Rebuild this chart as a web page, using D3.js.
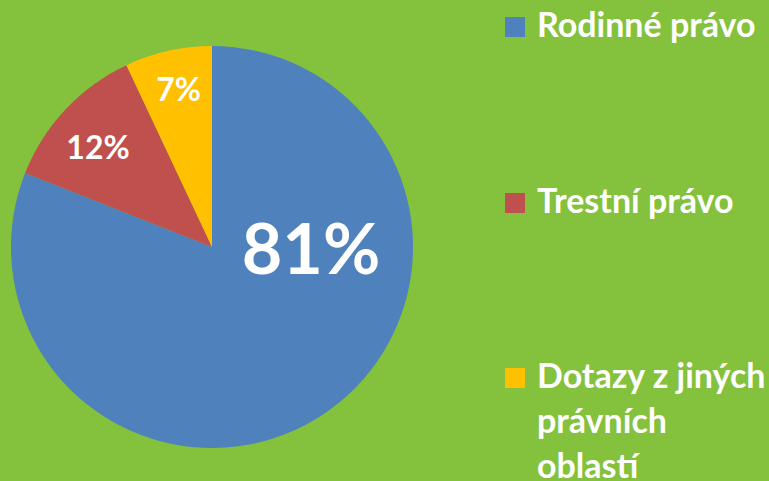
<!DOCTYPE html>
<html>
<head>
<meta charset="utf-8">
<script src="https://cdn.jsdelivr.net/npm/d3@7"></script>
<style>
  body { margin: 0; background: #84C13C; }
  svg { display: block; }
</style>
</head>
<body>
<div id="chart"></div>
<script>
const categories = ['Rodinné právo', 'Trestní právo', 'Dotazy z jiných právních oblastí'];
const values = [81, 12, 7];
const labels = ['81%', '12%', '7%'];
const legendLines = [['Rodinné právo'], ['Trestní právo'], ['Dotazy z jiných', 'právních', 'oblastí']];
const colors = ['#4F81BD', '#C0504D', '#FFC000'];

const width = 769;
const height = 481;
const cx = 212, cy = 247, radius = 201;
const fontFamily = 'Lato, "Open Sans", sans-serif';

const svg = d3.select('#chart')
  .append('svg')
    .attr('width', width)
    .attr('height', height);

svg.append('rect')
  .attr('width', width)
  .attr('height', height)
  .attr('fill', '#84C13C');

const g = svg.append('g')
  .attr('transform', `translate(${cx},${cy})`);

const pie = d3.pie().sort(null).value(d => d);
const arcs = pie(values);
const arc = d3.arc().innerRadius(0).outerRadius(radius);

g.selectAll('path.slice')
  .data(arcs)
  .join('path')
    .attr('class', 'slice')
    .attr('d', arc)
    .attr('fill', (d, i) => colors[i]);

// label placement: angle (deg, clockwise from top), distance from centre, font size
const labelCfg = [
  {a: 91, r: 99, size: 70},
  {a: -49, r: 151, size: 32},
  {a: -12, r: 161, size: 32}
];

g.selectAll('text.pct')
  .data(arcs)
  .join('text')
    .attr('class', 'pct')
    .attr('transform', (d, i) => {
      const a = labelCfg[i].a * Math.PI / 180;
      return `translate(${Math.sin(a) * labelCfg[i].r},${-Math.cos(a) * labelCfg[i].r})`;
    })
    .attr('text-anchor', 'middle')
    .attr('dy', '0.36em')
    .style('font-family', fontFamily)
    .style('font-weight', 'bold')
    .style('font-size', (d, i) => labelCfg[i].size + 'px')
    .attr('fill', 'white')
    .text((d, i) => labels[i]);

const legendY = [17, 193, 368];
const legend = svg.selectAll('g.legend')
  .data(categories)
  .join('g')
    .attr('class', 'legend')
    .attr('transform', (d, i) => `translate(505, ${legendY[i]})`);

legend.append('rect')
  .attr('width', 20)
  .attr('height', 20)
  .attr('fill', (d, i) => colors[i]);

legend.append('text')
  .attr('x', 32)
  .attr('y', 20)
  .style('font-family', fontFamily)
  .style('font-weight', 'bold')
  .style('font-size', '34px')
  .attr('fill', 'white')
  .each(function (d, i) {
    d3.select(this).selectAll('tspan')
      .data(legendLines[i])
      .join('tspan')
        .attr('x', 32)
        .attr('dy', (t, j) => j === 0 ? 0 : 45)
        .text(t => t);
  });
</script>
</body>
</html>
